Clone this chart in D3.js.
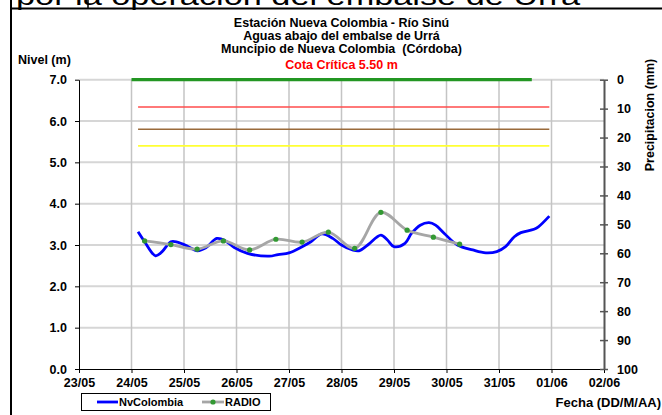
<!DOCTYPE html>
<html><head><meta charset="utf-8">
<script src="https://cdn.jsdelivr.net/npm/d3@7"></script>
<style>
body{margin:0;background:#fff;}
svg{display:block;font-family:"Liberation Sans",Arial,sans-serif;}
</style></head><body>
<svg id="c" width="662" height="415"></svg>
<script>
// ---- data ----
const headerText = "por la operación del embalse de Urrá";
const titleLines = ["Estación Nueva Colombia - Río Sinú", "Aguas abajo del embalse de Urrá", "Muncipio de Nueva Colombia  (Córdoba)"];
const criticalLabel = "Cota Crítica 5.50 m";
const leftAxisTitle = "Nivel (m)";
const rightAxisTitle = "Precipitacion (mm)";
const xAxisTitle = "Fecha (DD/M/AA)";
const seriesNames = ["NvColombia", "RADIO"];

const dayTicks = ["2013-05-23","2013-05-24","2013-05-25","2013-05-26","2013-05-27","2013-05-28","2013-05-29","2013-05-30","2013-05-31","2013-06-01","2013-06-02"];
const levelTicks = [0,1,2,3,4,5,6,7];
const precipTicks = [0,10,20,30,40,50,60,70,80,90,100];

const nivelTimes = ["2013-05-24T03:00","2013-05-24T06:00","2013-05-24T11:00","2013-05-24T14:00","2013-05-24T18:00","2013-05-24T21:00",
  "2013-05-25T02:00","2013-05-25T06:00","2013-05-25T10:00","2013-05-25T15:00","2013-05-25T19:00","2013-05-25T23:00",
  "2013-05-26T05:00","2013-05-26T15:00","2013-05-26T19:00","2013-05-27T00:00","2013-05-27T06:00","2013-05-27T10:00",
  "2013-05-27T15:00","2013-05-27T20:00","2013-05-28T00:00","2013-05-28T05:00","2013-05-28T08:00","2013-05-28T12:00",
  "2013-05-28T18:00","2013-05-28T21:00","2013-05-29T00:00","2013-05-29T05:00","2013-05-29T08:00","2013-05-29T12:00",
  "2013-05-29T16:00","2013-05-29T19:00","2013-05-29T23:00","2013-05-30T05:00","2013-05-30T12:00","2013-05-30T18:00",
  "2013-05-30T23:00","2013-05-31T03:00","2013-05-31T07:00","2013-05-31T10:00","2013-05-31T16:00","2013-05-31T18:00",
  "2013-05-31T23:00"];
const nivelValues = [3.32,3.08,2.74,2.84,3.08,3.07,
  2.96,2.86,2.93,3.16,3.10,2.94,
  2.80,2.73,2.77,2.81,2.96,3.08,
  3.27,3.16,3.00,2.88,2.86,3.00,
  3.24,3.12,2.96,3.04,3.28,3.48,
  3.54,3.48,3.28,3.00,2.88,2.81,
  2.84,2.96,3.20,3.30,3.38,3.44,
  3.70];

const radioTimes = ["2013-05-24T06:00","2013-05-24T18:00","2013-05-25T06:00","2013-05-25T18:00","2013-05-26T06:00","2013-05-26T18:00",
  "2013-05-27T06:00","2013-05-27T18:00","2013-05-28T06:00","2013-05-28T18:00","2013-05-29T06:00","2013-05-29T18:00","2013-05-30T06:00"];
const radioValues = [3.10,3.01,2.90,3.10,2.88,3.14,3.07,3.31,2.92,3.79,3.36,3.19,3.02];

const precipTimes = ["2013-05-24T00:00","2013-05-31T15:00"];
const precipValues = [0,0];

const thresholdLevels = [6.34, 5.80, 5.40];

// ---- drawing ----
const FONT = "Liberation Sans, Arial, sans-serif";
const FS = 12.5;
const parse = d3.timeParse("%Y-%m-%dT%H:%M");
const parseDay = d3.timeParse("%Y-%m-%d");
const days = dayTicks.map(parseDay);
const nivel = nivelTimes.map((t,i)=>({t:parse(t), v:nivelValues[i]}));
const radio = radioTimes.map((t,i)=>({t:parse(t), v:radioValues[i]}));
const precip = precipTimes.map((t,i)=>({t:parse(t), v:precipValues[i]}));

const svg = d3.select("#c");
const L = 79, R = 604, T = 79.7, B = 369;
const x = d3.scaleTime().domain([days[0], days[days.length-1]]).range([L, R]);
const y = d3.scaleLinear().domain([0,7]).range([B, T]);
const y2 = d3.scaleLinear().domain([0,100]).range([T, B]);

// frame & header
svg.append("text").attr("x",16).attr("y",5).attr("font-size",25).attr("fill","#000")
  .attr("textLength",564).attr("lengthAdjust","spacingAndGlyphs").text(headerText);
svg.append("line").attr("x1",11).attr("x2",662).attr("y1",8.5).attr("y2",8.5).attr("stroke","#000").attr("stroke-width",2);
svg.append("line").attr("x1",11).attr("x2",11).attr("y1",0).attr("y2",415).attr("stroke","#000").attr("stroke-width",2);
svg.append("line").attr("x1",88).attr("x2",88).attr("y1",0).attr("y2",8).attr("stroke","#000").attr("stroke-width",1.5);

// titles
const cx = (L+R)/2;
titleLines.forEach((s,i)=>{
  svg.append("text").attr("x",cx).attr("y",27+i*13).attr("text-anchor","middle").style("white-space","pre")
    .attr("font-size",FS).attr("font-weight","bold").attr("fill","#000").text(s);
});
svg.append("text").attr("x",cx).attr("y",68.5).attr("text-anchor","middle")
  .attr("font-size",FS).attr("font-weight","bold").attr("fill","#ff0000").text(criticalLabel);
svg.append("text").attr("x",18).attr("y",64).attr("font-size",FS).attr("font-weight","bold").text(leftAxisTitle);
svg.append("text").attr("transform","translate(654,115) rotate(-90)").attr("text-anchor","middle")
  .attr("font-size",FS).attr("font-weight","bold").text(rightAxisTitle);
svg.append("text").attr("x",661).attr("y",407).attr("text-anchor","end")
  .attr("font-size",FS+0.5).attr("font-weight","bold").text(xAxisTitle);

// gridlines
const g = svg.append("g");
g.selectAll("line.h").data(levelTicks.filter(d=>d>0)).join("line")
  .attr("x1",L).attr("x2",R).attr("y1",d=>y(d)).attr("y2",d=>y(d))
  .attr("stroke","#d6d6d6").attr("stroke-width",2);
g.selectAll("line.v").data(days.slice(1,-1)).join("line")
  .attr("x1",d=>x(d)).attr("x2",d=>x(d)).attr("y1",T).attr("y2",B)
  .attr("stroke","#c4c4c4").attr("stroke-width",1.5);

// thresholds
const thrColors = ["#ff4d4d","#9a6a3a","#ffff33"];
const ext = d3.extent(nivel, d=>d.t);
svg.selectAll("line.thr").data(thresholdLevels).join("line")
  .attr("x1",x(ext[0])).attr("x2",x(ext[1])).attr("y1",d=>y(d)).attr("y2",d=>y(d))
  .attr("stroke",(d,i)=>thrColors[i]).attr("stroke-width",1.6);

// precipitation
svg.append("path").datum(precip)
  .attr("d", d3.line().x(d=>x(d.t)).y(d=>y2(d.v)))
  .attr("fill","none").attr("stroke","#239623").attr("stroke-width",3.2);

// axes
const ax = svg.append("g").attr("transform",`translate(0,${B})`)
  .call(d3.axisBottom(x).tickValues(days).tickFormat(d3.timeFormat("%d/%m")).tickSizeInner(4).tickSizeOuter(0).tickPadding(5));
ax.select(".domain").attr("stroke","#000");
ax.selectAll(".tick line").attr("stroke","#000");
ax.selectAll("text").attr("font-size",FS).attr("font-weight","bold").attr("fill","#000").attr("font-family",FONT);

const ayl = svg.append("g").attr("transform",`translate(${L},0)`)
  .call(d3.axisLeft(y).tickValues(levelTicks).tickFormat(d3.format(".1f")).tickSizeInner(4).tickSizeOuter(0).tickPadding(8));
ayl.select(".domain").attr("stroke","#000");
ayl.selectAll(".tick line").attr("stroke","#000");
ayl.selectAll("text").attr("font-size",FS).attr("font-weight","bold").attr("fill","#000").attr("font-family",FONT);

const ayr = svg.append("g").attr("transform",`translate(${R},0)`)
  .call(d3.axisRight(y2).tickValues(precipTicks).tickSizeInner(4).tickSizeOuter(0).tickPadding(9));
ayr.select(".domain").attr("stroke","#555").attr("stroke-width",2);
ayr.selectAll(".tick line").attr("x1",-4).attr("stroke","#555").attr("stroke-width",1.5);
ayr.selectAll("text").attr("font-size",FS).attr("font-weight","bold").attr("fill","#000").attr("font-family",FONT);

// series
const ln = d3.line().x(d=>x(d.t)).y(d=>y(d.v)).curve(d3.curveCatmullRom.alpha(0.5));
svg.append("path").datum(nivel).attr("d",ln).attr("fill","none").attr("stroke","#0000ff").attr("stroke-width",2.8).attr("stroke-linejoin","round");
svg.append("path").datum(radio).attr("d",ln).attr("fill","none").attr("stroke","#a6a6a6").attr("stroke-width",2.8).attr("stroke-linejoin","round");
svg.selectAll("circle.m").data(radio).join("circle")
  .attr("cx",d=>x(d.t)).attr("cy",d=>y(d.v)).attr("r",2.6).attr("fill","#339933");

// legend
const lg = svg.append("g");
lg.append("rect").attr("x",81.5).attr("y",393.5).attr("width",189).attr("height",17).attr("fill","#fff").attr("stroke","#000");
lg.append("line").attr("x1",97).attr("x2",118).attr("y1",402).attr("y2",402).attr("stroke","#0000ff").attr("stroke-width",2.8);
lg.append("text").attr("x",119).attr("y",406).attr("font-size",11).attr("font-weight","bold").text(seriesNames[0]);
lg.append("line").attr("x1",202).attr("x2",224).attr("y1",402).attr("y2",402).attr("stroke","#a6a6a6").attr("stroke-width",2.8);
lg.append("circle").attr("cx",213).attr("cy",402).attr("r",2.6).attr("fill","#339933");
lg.append("text").attr("x",225).attr("y",406).attr("font-size",11).attr("font-weight","bold").text(seriesNames[1]);
</script>
</body></html>
